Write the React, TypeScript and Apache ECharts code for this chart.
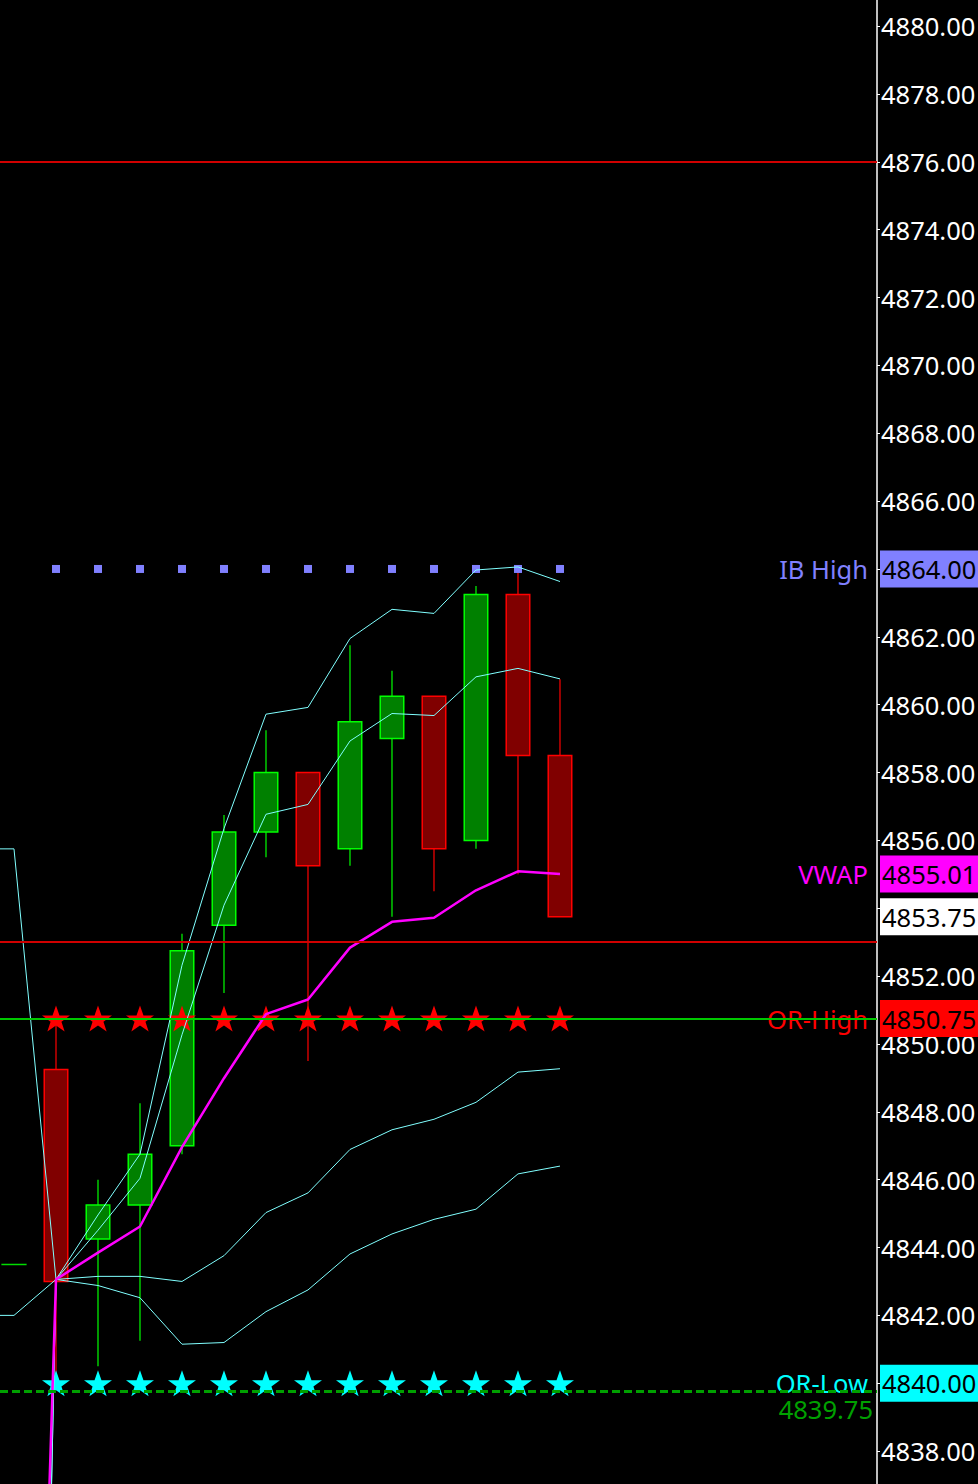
import React, { useEffect, useRef } from "react";
import * as echarts from "echarts";

// ---------- data ----------
const Y_MIN = 4837.03;
const Y_MAX = 4880.77;
const X_MIN = -1 / 3;
const X_MAX = 20.548;

// candle bars (bar index, open, close, low, high)
const candleIndex = [1, 2, 3, 4, 5, 6, 7, 8, 9, 10, 11, 12, 13];
const opens = [4849.25, 4844.25, 4845.25, 4847.0, 4853.5, 4856.25, 4858.0, 4855.75, 4859.0, 4860.25, 4856.0, 4863.25, 4858.5];
const closes = [4843.0, 4845.25, 4846.75, 4852.75, 4856.25, 4858.0, 4855.25, 4859.5, 4860.25, 4855.75, 4863.25, 4858.5, 4853.75];
const lows = [4840.0, 4840.5, 4841.25, 4846.75, 4851.5, 4855.5, 4849.5, 4855.25, 4853.75, 4854.5, 4855.75, 4855.0, 4853.75];
const highs = [4850.75, 4846.0, 4848.25, 4853.25, 4856.75, 4859.25, 4858.0, 4861.75, 4861.0, 4860.25, 4863.5, 4864.0, 4860.75];

// indicator lines (bar index -1 .. 13)
const lineIndex = [-1, 0, 1, 2, 3, 4, 5, 6, 7, 8, 9, 10, 11, 12, 13];
const vwap = [4804, 4804, 4843.06, 4843.85, 4844.62, 4846.96, 4848.99, 4850.88, 4851.31, 4852.84, 4853.6, 4853.72, 4854.53, 4855.09, 4855.01];
const bandUpper2 = [4855.75, 4855.75, 4843.06, 4844.96, 4846.75, 4852.32, 4856.35, 4859.72, 4859.92, 4861.95, 4862.81, 4862.69, 4863.97, 4864.06, 4863.63];
const bandUpper1 = [4786, 4786, 4843.06, 4844.51, 4846.04, 4850.27, 4854.09, 4856.77, 4857.06, 4858.93, 4859.74, 4859.68, 4860.82, 4861.07, 4860.76];
const bandLower1 = [4786, 4786, 4843.06, 4843.15, 4843.15, 4843.0, 4843.76, 4845.03, 4845.61, 4846.89, 4847.47, 4847.78, 4848.28, 4849.17, 4849.27];
const bandLower2 = [4842.0, 4842.0, 4843.06, 4842.88, 4842.52, 4841.15, 4841.2, 4842.11, 4842.75, 4843.81, 4844.4, 4844.83, 4845.13, 4846.17, 4846.4];

// levels
const ibHigh = 4864.0;
const orHigh = 4850.75;
const orLow = 4840.0;
const vwapLast = 4855.01;
const lastPrice = 4853.75;
const redLevels = [4876.0, 4853.0];
const dashedLevel = 4839.75;
const prevBarLevel = 4843.5;
const prevBarSpan = [-0.3, 0.3];

// axis ticks
const tickValues = [4838, 4840, 4842, 4844, 4846, 4848, 4850, 4852, 4854, 4856, 4858, 4860, 4862, 4864, 4866, 4868, 4870, 4872, 4874, 4876, 4878, 4880];
const hiddenTickLabels = [4840, 4854, 4864];

// right-side boxes and left-side names
const boxValues = [ibHigh, vwapLast, lastPrice, orHigh, orLow];
const nameValues = [ibHigh, vwapLast, orHigh, orLow];
const nameTexts = ["IB High", "VWAP", "OR-High", "OR-Low"];

// ---------- styles ----------
const FONT = '"Noto Sans", "DejaVu Sans", sans-serif';
const FS = 25.5;
const boxColors = ["#8080ff", "#ff00ff", "#ffffff", "#ff0000", "#00ffff"];
const nameColors = ["#8080ff", "#ff00ff", "#ff0000", "#00ffff"];
const STAR =
  "path://M50,0 L61.8,35.1 L97.6,35.1 L68.5,56.7 L79.4,91 L50,70 L20.6,91 L31.5,56.7 L2.4,35.1 L38.2,35.1 Z";

export default function App() {
  const ref = useRef<HTMLDivElement>(null);

  useEffect(() => {
    if (!ref.current) return;
    const chart = echarts.init(ref.current, null, { renderer: "svg" });

    const pair = (xs: number[], ys: number[]) => xs.map((x, i) => [x, ys[i]]);
    const flat = (xs: number[], v: number) => xs.map((x) => [x, v]);

    const baseY = {
      type: "value",
      min: Y_MIN,
      max: Y_MAX,
      position: "right",
      splitLine: { show: false },
    };

    const boxAxes = boxValues.map((v, i) => ({
      ...baseY,
      axisLine: { show: false, onZero: false },
      axisTick: { show: false },
      axisLabel: {
        customValues: [v],
        formatter: (val: number) => Number(val).toFixed(2),
        color: "#000000",
        backgroundColor: boxColors[i],
        fontFamily: FONT,
        fontSize: FS,
        lineHeight: 27,
        padding: [6, 6, 4, 2],
        margin: 3,
      },
    }));

    const nameAxes = nameValues.map((v, i) => ({
      ...baseY,
      axisLine: { show: false, onZero: false },
      axisTick: { show: false },
      axisLabel: {
        customValues: [v],
        inside: true,
        formatter: () => nameTexts[i],
        color: nameColors[i],
        fontFamily: FONT,
        fontSize: FS,
        padding: [4, 0, 0, 0],
        margin: 9,
      },
    }));

    const mainAxis = {
      ...baseY,
      axisLine: { show: true, onZero: false, lineStyle: { color: "#ffffff", width: 1.5 } },
      axisTick: {
        show: true,
        customValues: tickValues,
        length: 3,
        lineStyle: { color: "#ffffff", width: 1 },
      },
      axisLabel: {
        customValues: tickValues.filter((t) => hiddenTickLabels.indexOf(t) < 0),
        formatter: (val: number) => Number(val).toFixed(2),
        color: "#ffffff",
        fontFamily: FONT,
        fontSize: FS,
        padding: [7, 0, 0, 0],
        margin: 4,
      },
    };

    const candleData = candleIndex.map((k, i) => [k, opens[i], closes[i], lows[i], highs[i]]);

    const bandLine = (name: string, ys: number[]) => ({
      name,
      type: "line",
      data: pair(lineIndex, ys),
      showSymbol: false,
      symbol: "none",
      silent: true,
      z: 4,
      lineStyle: { color: "#80ffff", width: 1 },
    });

    const option: any = {
      animation: false,
      backgroundColor: "#000000",
      grid: { left: 0, right: 101, top: 0, bottom: 0, containLabel: false, outerBoundsMode: "none" },
      xAxis: { type: "value", min: X_MIN, max: X_MAX, show: false, splitLine: { show: false } },
      yAxis: [mainAxis, ...boxAxes, ...nameAxes],
      series: [
        {
          name: "candles",
          type: "custom",
          data: candleData,
          encode: { x: 0, y: [1, 2, 3, 4] },
          z: 2,
          silent: true,
          renderItem: (params: any, api: any) => {
            const x = api.value(0);
            const o = api.value(1);
            const c = api.value(2);
            const l = api.value(3);
            const h = api.value(4);
            const pO = api.coord([x, o]);
            const pC = api.coord([x, c]);
            const pL = api.coord([x, l]);
            const pH = api.coord([x, h]);
            const bw = api.size([1, 0])[0] * 0.56;
            const up = c >= o;
            const stroke = up ? "#00ff00" : "#ff0000";
            const fill = up ? "#008000" : "#800000";
            const top = Math.min(pO[1], pC[1]);
            const bottom = Math.max(pO[1], pC[1]);
            return {
              type: "group",
              children: [
                {
                  type: "line",
                  shape: { x1: pH[0], y1: pH[1], x2: pL[0], y2: pL[1] },
                  style: { stroke, lineWidth: 1.2 },
                },
                {
                  type: "rect",
                  shape: { x: pO[0] - bw / 2, y: top, width: bw, height: Math.max(bottom - top, 1) },
                  style: { fill, stroke, lineWidth: 1.5 },
                },
              ],
            };
          },
        },
        {
          name: "IB High",
          type: "scatter",
          data: flat(candleIndex, ibHigh),
          symbol: "rect",
          symbolSize: 8,
          itemStyle: { color: "#8080ff", opacity: 1 },
          silent: true,
          z: 3,
        },
        {
          name: "OR High stars",
          type: "scatter",
          data: flat(candleIndex, orHigh),
          symbol: STAR,
          symbolSize: [28, 26],
          itemStyle: { color: "#ff0000", opacity: 1 },
          silent: true,
          z: 3,
        },
        {
          name: "OR Low stars",
          type: "scatter",
          data: flat(candleIndex, orLow),
          symbol: STAR,
          symbolSize: [28, 26],
          itemStyle: { color: "#00ffff", opacity: 1 },
          silent: true,
          z: 3,
        },
        bandLine("upper2", bandUpper2),
        bandLine("upper1", bandUpper1),
        bandLine("lower1", bandLower1),
        bandLine("lower2", bandLower2),
        {
          name: "VWAP",
          type: "line",
          data: pair(lineIndex, vwap),
          showSymbol: false,
          symbol: "none",
          silent: true,
          z: 4,
          lineStyle: { color: "#ff00ff", width: 2.5 },
        },
        {
          name: "prev",
          type: "line",
          data: flat(prevBarSpan, prevBarLevel),
          showSymbol: false,
          symbol: "none",
          silent: true,
          z: 5,
          lineStyle: { color: "#00dd00", width: 1.5 },
          markLine: {
            silent: true,
            symbol: ["none", "none"],
            animation: false,
            label: { show: false },
            data: [
              ...redLevels.map((v) => ({ yAxis: v, lineStyle: { color: "#d00000", width: 2, type: "solid" } })),
              { yAxis: orHigh, lineStyle: { color: "#00c800", width: 2, type: "solid" } },
              {
                yAxis: dashedLevel,
                lineStyle: { color: "#00a000", width: 3, type: [8, 4] },
                label: {
                  show: true,
                  position: "insideEndBottom",
                  formatter: dashedLevel.toFixed(2),
                  color: "#00a000",
                  fontFamily: FONT,
                  fontSize: FS,
                  distance: 4,
                },
              },
            ],
          },
        },
      ],
    };

    chart.setOption(option);
    return () => chart.dispose();
  }, []);

  return (
    <div
      ref={ref}
      style={{ position: "fixed", left: 0, top: 0, width: 978, height: 1484, background: "#000" }}
    />
  );
}
